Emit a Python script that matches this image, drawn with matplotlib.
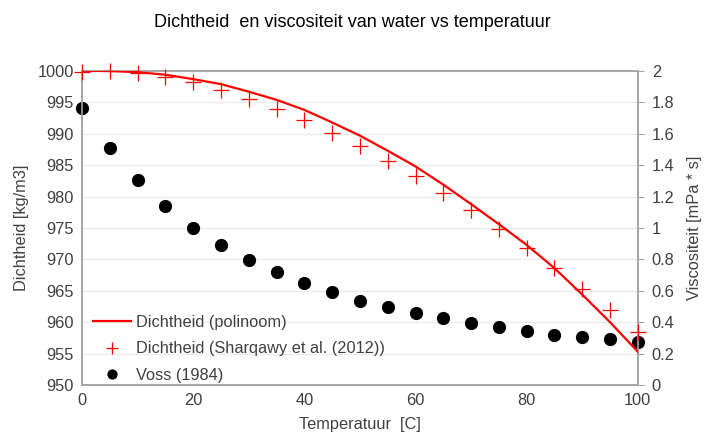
import matplotlib
matplotlib.use("Agg")
import matplotlib.pyplot as plt

plt.rcParams['font.family'] = ['Liberation Sans', 'DejaVu Sans']

# temperatuur in graden C
temp = [0, 5, 10, 15, 20, 25, 30, 35, 40, 45, 50, 55, 60, 65, 70, 75, 80, 85, 90, 95, 100]

# dichtheid volgens polinoom [kg/m3]
rho_pol = [1000.0, 1000.0, 999.8, 999.4, 998.7, 997.9, 996.7, 995.4, 993.8, 991.8, 989.7,
           987.3, 984.8, 981.9, 978.8, 975.6, 972.3, 968.6, 964.4, 960.0, 955.3]

# dichtheid volgens Sharqawy et al. (2012) [kg/m3]
rho_sh = [999.9, 1000.0, 999.7, 999.1, 998.2, 997.0, 995.6, 994.0, 992.2, 990.2, 988.0,
          985.7, 983.2, 980.6, 977.8, 974.9, 971.8, 968.6, 965.3, 961.9, 958.4]

# viscositeit volgens Voss (1984) [mPa*s]
visc = [1.764, 1.507, 1.306, 1.14, 1.002, 0.892, 0.796, 0.718, 0.648, 0.594, 0.537,
        0.495, 0.457, 0.425, 0.397, 0.371, 0.346, 0.320, 0.304, 0.291, 0.274]

txt = '#404040'
spine = '#a6a6a6'
fs = 11.8

fig = plt.figure(figsize=(7.04, 4.38), dpi=100)
ax = fig.add_axes([0.1165, 0.121, 0.7895, 0.717])
ax2 = ax.twinx()

ax.set_zorder(2)
ax.patch.set_visible(False)

l1, = ax.plot(temp, rho_pol, color='red', lw=1.6, label='Dichtheid (polinoom)', zorder=3)
l2, = ax.plot(temp, rho_sh, ls='none', marker='+', ms=11, mew=0.9, color='red',
              label='Dichtheid (Sharqawy et al. (2012))', zorder=4, clip_on=False)
l3, = ax2.plot(temp, visc, ls='none', marker='o', ms=8.5, color='black', label='Voss (1984)',
               zorder=3, clip_on=False)

ax.set_xlim(0, 100)
ax.set_ylim(950, 1000)
ax2.set_ylim(0, 2)
ax.set_xticks([0, 20, 40, 60, 80, 100])
ax.set_yticks(range(950, 1001, 5))
ax2.set_yticks([0, 0.2, 0.4, 0.6, 0.8, 1, 1.2, 1.4, 1.6, 1.8, 2])
ax2.set_yticklabels(['0', '0.2', '0.4', '0.6', '0.8', '1', '1.2', '1.4', '1.6', '1.8', '2'])

# raster op de onderste as zodat het onder de punten ligt
ax.grid(False)
ax2.grid(True, color='#ececec', lw=1)
ax2.set_axisbelow(True)

for a in (ax, ax2):
    for s in a.spines.values():
        s.set_color(spine)
        s.set_linewidth(1.2)

ax.tick_params(axis='both', length=0, labelsize=fs, labelcolor=txt, pad=6)
ax2.tick_params(axis='y', length=4, color=spine, labelsize=fs, labelcolor=txt, pad=6)

ax.set_xlabel('Temperatuur  [C]', fontsize=fs, color=txt, labelpad=6)
ax.set_ylabel('Dichtheid [kg/m3]', fontsize=fs, color=txt, labelpad=6)
ax2.set_ylabel('Viscositeit [mPa * s]', fontsize=fs, color=txt, labelpad=9)

fig.suptitle('Dichtheid  en viscositeit van water vs temperatuur', fontsize=13, y=0.968, color='black')

leg = ax.legend(handles=[l1, l2, l3], loc='lower left', frameon=False, fontsize=fs,
                handlelength=2.3, handletextpad=0.3, labelspacing=0.7, markerscale=0.75,
                bbox_to_anchor=(-0.003, -0.035), borderaxespad=0.4)
for t in leg.get_texts():
    t.set_color(txt)

fig.savefig('out.png', dpi=100)
